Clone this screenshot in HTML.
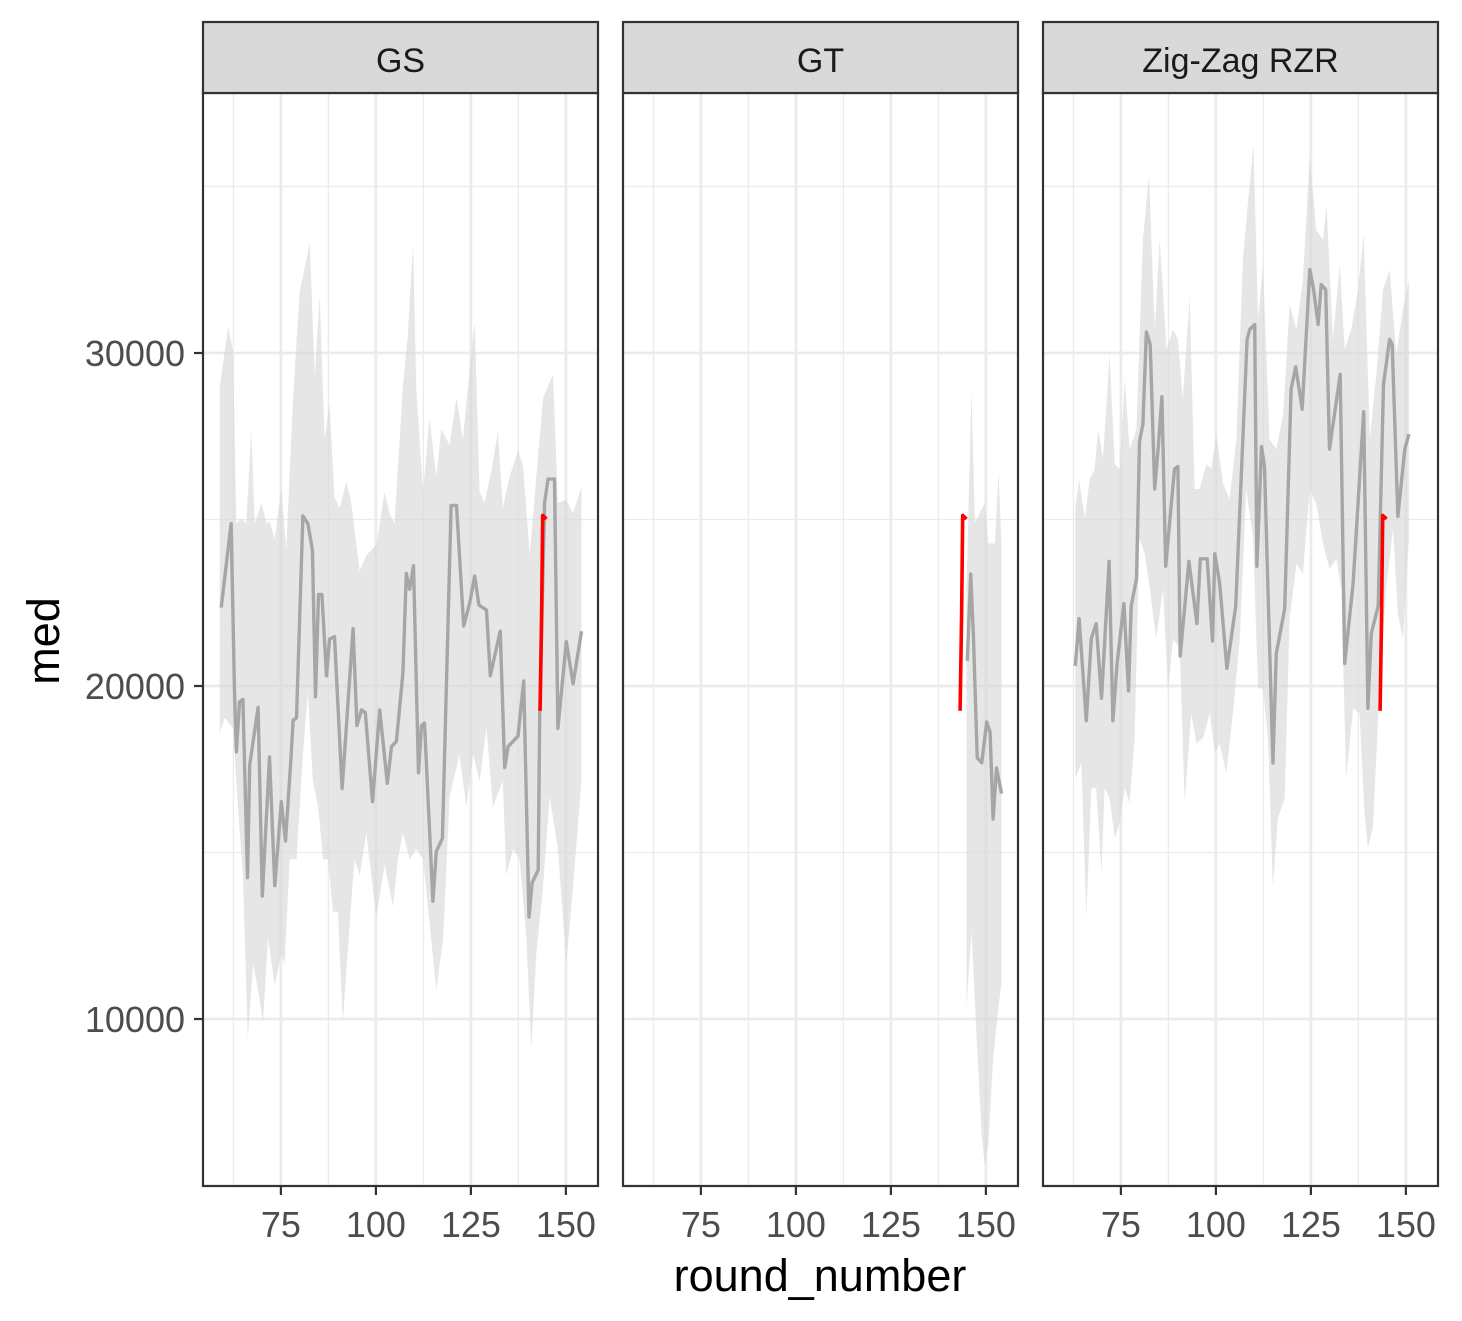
<!DOCTYPE html>
<html><head><meta charset="utf-8">
<style>
html,body{margin:0;padding:0;background:#fff;}
svg{display:block;font-family:"Liberation Sans",Arial,sans-serif;}
</style></head>
<body>
<svg id="chart" width="1462" height="1321" viewBox="0 0 1462 1321" xmlns="http://www.w3.org/2000/svg"></svg>
<script>
const panelNames = ["GS","GT","Zig-Zag RZR"];
const xTicks = [75,100,125,150];
const xMinor = [62.5,87.5,112.5,137.5];
const yTicks = [10000,20000,30000];
const yMinor = [5000,15000,25000,35000];

const gsRounds = [59.3,61.9,62.8,63.3,64.1,65.0,66.2,66.8,69.0,70.1,72.0,73.4,75.1,76.2,77.7,78.2,79.1,80.8,82.1,83.3,84.1,84.9,85.8,87.0,87.8,89.1,91.1,94.0,95.0,96.2,97.2,99.1,101.0,103.0,104.1,105.4,107.1,108.0,108.9,109.9,111.2,112.0,112.8,115.0,115.9,117.5,119.8,121.2,123.1,124.7,126.0,127.1,129.1,130.1,132.7,133.9,134.8,137.4,138.9,140.3,141.1,142.7,143.1,144.4,145.3,147.0,147.9,150.1,151.9,154.1];
const gsMed = [22354,24874,19834,18023,19519,19598,14243,17629,19361,13691,17865,14007,16526,15345,17944,18968,19046,25110,24874,24087,19677,22748,22748,20306,21409,21488,16920,21724,18810,19283,19204,16526,19283,17078,18180,18338,20385,23378,22905,23614,17393,18810,18889,13534,15030,15424,25425,25425,21803,22511,23299,22433,22275,20306,21645,17550,18180,18495,20149,13061,14086,14479,19204,25504,26212,26212,18731,21330,20070,21645];
const gsHiRounds = [58.9,61.1,62.4,63.3,64.6,65.9,67.2,68.1,69.9,71.2,72.0,73.4,75.1,76.4,78.2,79.9,82.6,83.9,85.2,86.5,87.8,89.1,90.5,92.2,93.5,95.7,97.5,100.1,102.3,103.6,104.9,107.1,108.4,109.8,110.6,112.4,114.1,115.9,117.2,119.4,121.2,122.9,124.2,126.0,127.3,128.6,130.4,132.1,133.4,135.2,137.4,138.7,140.5,142.2,144.0,146.6,147.9,150.1,151.9,154.1];
const gsHi = [28969,30780,30072,24874,25031,24874,27709,24874,25504,24874,24953,24401,25977,24087,28654,31804,33300,29284,31725,27394,28497,25662,25347,26134,25504,23457,23929,24244,25819,25189,24874,28969,30544,33300,28969,25819,28024,26292,27709,27237,28654,27394,28969,30938,25819,25504,26449,27630,25347,26292,27079,26607,23929,26292,28654,29363,25504,25583,25189,25977];
const gsLoRounds = [58.9,60.2,62.4,63.7,65.0,66.3,67.7,69.0,70.3,71.6,73.4,75.1,76.0,77.3,79.1,80.8,82.1,83.4,84.8,86.1,87.4,88.7,90.0,91.3,93.1,94.4,95.7,97.5,98.8,100.1,102.3,104.5,105.8,107.1,108.9,110.6,112.4,114.1,115.9,117.7,119.4,122.0,123.8,125.6,127.3,129.1,130.8,133.4,134.3,136.1,137.8,139.6,140.9,142.2,144.0,145.7,147.9,150.1,151.9,154.1];
const gsLo = [18574,19046,18731,16369,14321,9439,11644,10856,9911,12431,11014,11959,11644,14794,14794,17944,19834,17156,16369,14794,14794,13219,13219,9911,12904,14794,14321,15581,14321,13061,14636,13376,14794,15581,14794,15109,14794,12904,10856,12431,16684,17944,16369,17944,17156,18731,16369,17156,14321,15109,14794,12431,9124,11959,14006,16684,15109,11644,14006,17156];

const gtRounds = [145.1,146.0,146.7,147.7,148.9,150.2,151.1,151.9,152.8,154.1];
const gtMed = [20757,23361,21523,17846,17693,18918,18612,16007,17539,16773];
const gtHiRounds = [144.9,146.2,147.1,148.4,149.7,150.6,152.4,153.3,154.1];
const gtHi = [22901,28876,24893,25199,25506,24280,24280,26425,24280];
const gtLoRounds = [144.9,146.2,147.5,148.9,149.7,150.6,151.9,153.3,154.1];
const gtLo = [10339,12637,9573,6509,5590,6203,8807,10339,11105];

const zzRounds = [63.0,64.0,65.9,67.2,68.5,69.9,70.7,71.9,72.9,74.0,75.8,77.0,77.7,79.1,79.9,80.8,81.7,82.7,83.9,84.8,85.8,86.8,89.1,90.0,90.6,92.9,95.0,95.9,97.7,99.1,99.7,101.0,102.9,105.2,108.2,108.9,110.2,110.8,112.0,112.8,115.0,115.9,118.1,119.8,121.0,122.7,124.7,125.7,126.9,127.7,128.9,129.9,132.7,133.9,136.1,138.9,140.0,140.9,142.7,144.1,145.7,146.4,147.9,149.7,150.8];
const zzMed = [20603,22025,18957,21426,21875,19630,21276,23746,18957,20678,22475,19854,22400,23223,27339,27863,30633,30258,25917,27115,28687,23597,26516,26591,20902,23746,21875,23821,23821,21351,23971,23073,20528,22400,30408,30707,30857,23597,27190,26591,17684,20977,22325,28911,29585,28312,32504,31905,30857,32055,31905,27115,29360,20678,23073,28237,19330,21576,22400,29061,30408,30258,25094,27115,27564];
const zzHiRounds = [63.0,64.0,65.5,66.8,68.1,69.0,70.3,72.0,73.4,74.7,76.0,77.3,79.1,80.8,82.4,83.9,85.2,87.0,88.7,90.0,91.3,93.1,94.4,95.7,97.5,98.8,100.1,101.9,103.6,105.4,107.1,108.4,109.9,111.1,112.4,114.1,115.9,117.7,119.4,121.2,122.9,124.7,126.4,128.2,129.1,130.8,132.6,133.9,135.6,137.4,138.9,140.5,142.2,144.0,145.7,147.5,149.2,150.8];
const zzHi = [25318,26216,25019,26216,26516,27713,26815,29959,26666,26516,29210,27115,27713,33402,35348,30707,33402,30109,30707,30408,28612,31680,25917,25917,26666,26516,27564,26067,25618,27414,32803,34450,36246,31007,32654,27414,27115,28163,31456,30707,32204,35947,33701,33402,34450,30408,32654,30109,30707,31905,33552,27414,29360,31905,32504,29959,31306,32204];
const zzLoRounds = [63.0,64.6,65.9,67.2,68.5,69.9,70.7,72.0,73.4,74.7,76.0,77.3,78.6,79.9,81.3,82.6,84.3,86.1,87.4,88.7,90.5,91.8,93.5,94.9,96.6,98.4,99.7,101.0,102.7,104.5,106.3,108.0,109.8,111.1,112.4,113.7,115.0,116.3,118.1,119.4,121.2,122.9,124.7,126.4,128.2,129.9,131.7,133.0,134.3,136.1,137.8,139.1,140.0,141.3,143.1,144.8,146.6,147.9,149.2,150.8];
const zzLo = [17234,17684,13043,16935,16935,14390,16935,16636,15438,15887,16935,16486,18432,24420,23971,22923,21426,22923,19779,21426,21127,16486,19181,18282,18432,19181,17983,18282,17384,19181,21426,25917,24420,19929,19929,18432,13941,16037,16636,22025,23672,23372,25917,25468,24270,23523,23822,22923,17234,19330,19181,16187,15139,15738,19929,22923,24719,22175,21426,24420];

const redRounds = [143.2,143.6,143.9,144.9];
const redMed = [19255,22135,25123,25016];

const panels = [
  {name:panelNames[0], key:"gs", r:gsRounds, m:gsMed, hr:gsHiRounds, h:gsHi, lr:gsLoRounds, l:gsLo},
  {name:panelNames[1], key:"gt", r:gtRounds, m:gtMed, hr:gtHiRounds, h:gtHi, lr:gtLoRounds, l:gtLo},
  {name:panelNames[2], key:"zig-zag-rzr", r:zzRounds, m:zzMed, hr:zzHiRounds, h:zzHi, lr:zzLoRounds, l:zzLo}
];

const NS = "http://www.w3.org/2000/svg";
const svg = document.getElementById("chart");
function mk(tag, attrs, parent){
  const e = document.createElementNS(NS, tag);
  for (const k in attrs) e.setAttribute(k, attrs[k]);
  (parent||svg).appendChild(e);
  return e;
}
const panelLefts = [203,623,1043];
const PW = 395, PT = 93, PB = 1186;
const XMIN = 54.5, XMAX = 158.45;
const YMIN = 4985, YMAX = 37808;
function yS(v){ return PB - (v - YMIN)/(YMAX - YMIN)*(PB-PT); }
function xS(px, r){ return px + (r - XMIN)/(XMAX - XMIN)*PW; }

panels.forEach((p, i) => {
  const px = panelLefts[i];
  const g = mk("g", {});
  
  
  mk("rect", {x:px, y:PT, width:PW, height:PB-PT, fill:"#fff"}, g);
  yMinor.forEach(v => { const y=yS(v); if(y>PT&&y<PB){ const e=mk("line",{x1:px,x2:px+PW,y1:y,y2:y,stroke:"#ebebeb","stroke-width":1.3},g);
      }});
  xMinor.forEach(v => { const x=xS(px,v); const e=mk("line",{x1:x,x2:x,y1:PT,y2:PB,stroke:"#ebebeb","stroke-width":1.3},g);
      });
  yTicks.forEach(v => { const y=yS(v); const e=mk("line",{x1:px,x2:px+PW,y1:y,y2:y,stroke:"#ebebeb","stroke-width":2.8},g);
      });
  xTicks.forEach(v => { const x=xS(px,v); const e=mk("line",{x1:x,x2:x,y1:PT,y2:PB,stroke:"#ebebeb","stroke-width":2.8},g);
      });
  let d = "";
  p.hr.forEach((r,j)=>{ d += (j?"L":"M") + xS(px,r).toFixed(1) + "," + yS(p.h[j]).toFixed(1); });
  for (let j=p.lr.length-1;j>=0;j--) d += "L" + xS(px,p.lr[j]).toFixed(1) + "," + yS(p.l[j]).toFixed(1);
  d += "Z";
  const rib = mk("path",{d:d, fill:"#d9d9d9", "fill-opacity":0.65},g);
  
  
  const pts = p.r.map((r,j)=> xS(px,r).toFixed(1)+","+yS(p.m[j]).toFixed(1)).join(" ");
  const ln = mk("polyline",{points:pts, fill:"none", stroke:"#a6a6a6","stroke-width":3.4,"stroke-linejoin":"round"},g);
  
  
  const rpts = redRounds.map((r,j)=> xS(px,r).toFixed(1)+","+yS(redMed[j]).toFixed(1)).join(" ");
  const rl = mk("polyline",{points:rpts, fill:"none", stroke:"#ff0000","stroke-width":3.6,"stroke-linejoin":"round"},g);
  
  
  mk("rect",{x:px, y:PT, width:PW, height:PB-PT, fill:"none", stroke:"#333","stroke-width":2.2},g);
  const st = mk("rect",{x:px, y:22, width:PW, height:71, fill:"#d9d9d9", stroke:"#333","stroke-width":2.2},g);
  
  
  const stt = mk("text",{x:px+PW/2, y:72, "text-anchor":"middle","font-size":34, fill:"#1a1a1a"},g);
  stt.textContent = p.name;
  
  
  xTicks.forEach(v => {
    const x = xS(px,v);
    const t = mk("line",{x1:x,x2:x,y1:PB,y2:PB+9,stroke:"#333","stroke-width":2.2},g);
     
    const tx = mk("text",{x:x, y:1237, "text-anchor":"middle","font-size":36, fill:"#4d4d4d"},g);
    tx.textContent = v;
     
  });
});
yTicks.forEach(v => {
  const y = yS(v);
  const t = mk("line",{x1:194,x2:203,y1:y,y2:y,stroke:"#333","stroke-width":2.2});
   
  const tx = mk("text",{x:185, y:y+13, "text-anchor":"end","font-size":36, fill:"#4d4d4d"});
  tx.textContent = v;
   
});
const xt = mk("text",{x:820, y:1291, "text-anchor":"middle","font-size":45, fill:"#000"});
xt.textContent = "round_number";
 
const yt = mk("text",{x:0, y:0, "text-anchor":"middle","font-size":45, fill:"#000", transform:"translate(59,641) rotate(-90)"});
yt.textContent = "med";
 
</script>
</body></html>
